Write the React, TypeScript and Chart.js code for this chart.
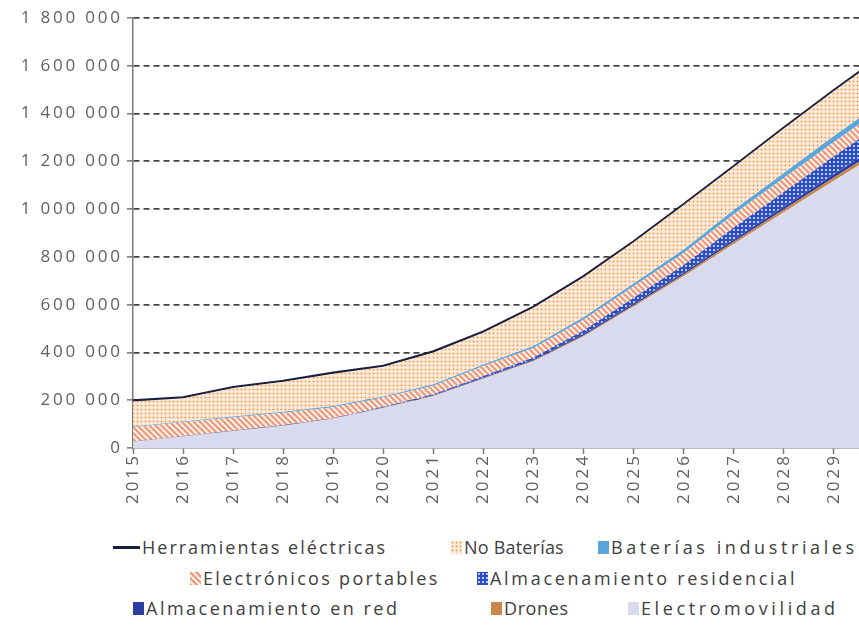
import React, { useEffect, useRef } from 'react';
import { Chart, registerables } from 'chart.js';

Chart.register(...registerables);

// ---------- DATA ----------
const YEARS = ['2015', '2016', '2017', '2018', '2019', '2020', '2021', '2022', '2023', '2024', '2025', '2026', '2027', '2028', '2029', '2030'];

const ELECTROMOVILIDAD = [25500, 48000, 70000, 92500, 122000, 167000, 217000, 290000, 363000, 467000, 592000, 719000, 854000, 987000, 1119000, 1249000];
const DRONES = [500, 500, 1000, 1000, 1000, 1000, 2000, 2000, 3000, 4000, 6000, 7000, 9000, 11000, 13000, 15000];
const ALMACENAMIENTO_RED = [500, 500, 1000, 1000, 1000, 2000, 2000, 3000, 4000, 6000, 7000, 8000, 10000, 12000, 14000, 16000];
const ALMACENAMIENTO_RESIDENCIAL = [500, 1000, 1000, 1500, 2000, 3000, 4000, 6000, 9000, 15000, 24000, 32000, 50000, 62000, 75000, 85000];
const ELECTRONICOS_PORTABLES = [60000, 58000, 55000, 52000, 45000, 38000, 36000, 42000, 40000, 45000, 48000, 50000, 55000, 58000, 60000, 62000];
const BATERIAS_INDUSTRIALES = [3000, 3000, 4000, 4000, 5000, 5000, 6000, 7000, 8000, 10000, 12000, 15000, 18000, 21000, 25000, 28000];
const NO_BATERIAS = [105000, 97000, 119000, 125000, 135000, 124000, 133000, 133000, 160000, 168000, 172000, 186000, 180000, 186000, 188000, 190000];
const HERRAMIENTAS = [4000, 4000, 4000, 4000, 4000, 4000, 4000, 4000, 4000, 4000, 4000, 4000, 4000, 4000, 4000, 4000];

const Y_MIN = 0;
const Y_MAX = 1800000;
const Y_STEP = 200000;

// ---------- LAYOUT / STYLE ----------
const FULL_W = 996;
const CANVAS_H = 515;
const FONT = "'Open Sans', 'DejaVu Sans', sans-serif";
const TEXT = '#5f5f5f';
const AXIS = '#7a7a7a';

const C_ELECTRO = '#dadaee';
const C_DRONES = '#c8874b';
const C_RED = '#2c3ca0';
const C_IND = '#5aa6dc';
const C_HERR = '#1a2140';

function makeTile(size: number, draw: (g: CanvasRenderingContext2D) => void) {
  const c = document.createElement('canvas');
  c.width = size;
  c.height = size;
  const g = c.getContext('2d')!;
  draw(g);
  return c;
}

function buildTiles() {
  const noBat = makeTile(4, (g) => {
    g.fillStyle = '#feead8';
    g.fillRect(0, 0, 4, 4);
    g.fillStyle = '#f9c397';
    g.fillRect(0, 1, 3, 1);
    g.fillRect(1, 0, 1, 3);
    g.fillStyle = '#f39e5c';
    g.fillRect(1, 1, 1, 1);
  });
  const elec = makeTile(6, (g) => {
    g.fillStyle = '#fffaf7';
    g.fillRect(0, 0, 6, 6);
    g.strokeStyle = '#f29b7c';
    g.lineWidth = 2.4;
    g.beginPath();
    for (const k of [-6, 0, 6]) {
      g.moveTo(k - 1, -1);
      g.lineTo(k + 7, 7);
    }
    g.stroke();
  });
  const res = makeTile(4, (g) => {
    g.fillStyle = '#2c4ec4';
    g.fillRect(0, 0, 4, 4);
    g.fillStyle = '#b9c8f4';
    g.fillRect(1, 1, 2, 2);
  });
  return { noBat, elec, res };
}

const fmt = (v: number) => String(v).replace(/\B(?=(\d{3})+(?!\d))/g, ' ');

// draw a text with extra spacing between its characters, right-aligned at x
function drawSpacedRight(ctx: CanvasRenderingContext2D, text: string, x: number, y: number, spacing: number) {
  const chars = Array.from(text);
  const widths = chars.map((ch) => ctx.measureText(ch).width);
  const total = widths.reduce((a, b) => a + b, 0) + spacing * (chars.length - 1);
  let cx = x - total;
  chars.forEach((ch, i) => {
    ctx.fillText(ch, cx, y);
    cx += widths[i] + spacing;
  });
}

const tickLabelPlugin = {
  id: 'spacedTickLabels',
  afterDraw(chart: any) {
    const ctx: CanvasRenderingContext2D = chart.ctx;
    const ys = chart.scales.y;
    const xs = chart.scales.x;
    ctx.save();
    ctx.fillStyle = TEXT;
    ctx.font = `17px ${FONT}`;
    ctx.textAlign = 'left';
    ctx.textBaseline = 'middle';
    ys.ticks.forEach((t: any) => {
      drawSpacedRight(ctx, fmt(t.value), 120, ys.getPixelForValue(t.value), 2.8);
    });
    const labels: string[] = chart.data.labels;
    labels.forEach((lab, i) => {
      const px = xs.getPixelForTick(i);
      ctx.save();
      ctx.translate(px, xs.top + 8);
      ctx.rotate(-Math.PI / 2);
      drawSpacedRight(ctx, lab, 0, 0, 3);
      ctx.restore();
    });
    ctx.restore();
  },
};

type LegendItem = { label: string; left: number; top: number; swatch: React.CSSProperties; spacing: number; line?: boolean };

export default function App() {
  const ref = useRef<HTMLCanvasElement>(null);
  const [tileUrls, setTileUrls] = React.useState<{ noBat: string; elec: string; res: string } | null>(null);

  useEffect(() => {
    const canvas = ref.current!;
    const tiles = buildTiles();
    setTileUrls({ noBat: tiles.noBat.toDataURL(), elec: tiles.elec.toDataURL(), res: tiles.res.toDataURL() });
    const ctx = canvas.getContext('2d')!;
    const pNoBat = ctx.createPattern(tiles.noBat, 'repeat')!;
    const pElec = ctx.createPattern(tiles.elec, 'repeat')!;
    const pRes = ctx.createPattern(tiles.res, 'repeat')!;

    const area = (label: string, data: number[], bg: any, fill: any = '-1', extra: any = {}) => ({
      type: 'line',
      label,
      data,
      backgroundColor: bg,
      borderColor: 'rgba(0,0,0,0)',
      borderWidth: 0,
      fill,
      pointRadius: 0,
      tension: 0,
      ...extra,
    });

    const chart = new Chart(canvas, {
      type: 'line',
      data: {
        labels: YEARS,
        datasets: [
          area('Electromovilidad', ELECTROMOVILIDAD, C_ELECTRO, 'origin'),
          area('Drones', DRONES, C_DRONES),
          area('Almacenamiento en red', ALMACENAMIENTO_RED, C_RED),
          area('Almacenamiento residencial', ALMACENAMIENTO_RESIDENCIAL, pRes),
          area('Electrónicos portables', ELECTRONICOS_PORTABLES, pElec),
          area('Baterías industriales', BATERIAS_INDUSTRIALES, C_IND),
          area('No Baterías', NO_BATERIAS, pNoBat),
          area('Herramientas eléctricas', HERRAMIENTAS, C_HERR, '-1', { borderColor: C_HERR, borderWidth: 2.4 }),
        ] as any,
      },
      options: {
        animation: false,
        responsive: false,
        maintainAspectRatio: false,
        layout: { padding: { top: 18, right: FULL_W - 884, bottom: 0, left: 0 } },
        plugins: {
          legend: { display: false },
          tooltip: { enabled: false },
        },
        scales: {
          x: {
            type: 'category',
            offset: false,
            grid: {
              display: true,
              drawOnChartArea: false,
              drawTicks: true,
              tickLength: 6,
              tickColor: AXIS,
              tickWidth: 1.5,
            },
            border: { display: true, color: AXIS, width: 1.5 },
            ticks: { display: false, autoSkip: false },
            afterFit: (s: any) => {
              s.height = CANVAS_H - 448;
            },
          },
          y: {
            stacked: true,
            min: Y_MIN,
            max: Y_MAX,
            grid: {
              color: (c: any) => (c.tick && c.tick.value === 0 ? 'rgba(0,0,0,0)' : '#444444'),
              lineWidth: 1.7,
              drawTicks: true,
              tickLength: 6,
              tickColor: AXIS,
              tickWidth: 1.5,
            },
            border: { display: true, color: AXIS, width: 1.5, dash: [6, 4] },
            ticks: { display: false, stepSize: Y_STEP },
            afterFit: (s: any) => {
              s.width = 133;
            },
          },
        },
      } as any,
      plugins: [tickLabelPlugin],
    });
    return () => chart.destroy();
  }, []);

  const sw = (extra: React.CSSProperties): React.CSSProperties => ({
    width: 11,
    height: 13,
    display: 'inline-block',
    flex: '0 0 auto',
    ...extra,
  });

  const items: LegendItem[] = [
    { label: 'Herramientas eléctricas', left: 113, top: 547, line: true, spacing: 2.0, swatch: { width: 27, height: 3, background: C_HERR } },
    { label: 'No Baterías', left: 451, top: 547, spacing: 0.2, swatch: sw({ backgroundImage: tileUrls ? `url(${tileUrls.noBat})` : undefined }) },
    { label: 'Baterías industriales', left: 598, top: 547, spacing: 3.6, swatch: sw({ background: C_IND }) },
    { label: 'Electrónicos portables', left: 190, top: 578, spacing: 2.3, swatch: sw({ backgroundImage: tileUrls ? `url(${tileUrls.elec})` : undefined }) },
    { label: 'Almacenamiento residencial', left: 477, top: 578, spacing: 2.7, swatch: sw({ backgroundImage: tileUrls ? `url(${tileUrls.res})` : undefined }) },
    { label: 'Almacenamiento en red', left: 133, top: 608, spacing: 2.5, swatch: sw({ background: C_RED }) },
    { label: 'Drones', left: 491, top: 608, spacing: 0.6, swatch: sw({ background: C_DRONES }) },
    { label: 'Electromovilidad', left: 628, top: 608, spacing: 3.6, swatch: sw({ background: C_ELECTRO }) },
  ];

  return (
    <div style={{ position: 'fixed', left: 0, top: 0, width: 859, height: 629, overflow: 'hidden', background: '#ffffff' }}>
      <div style={{ position: 'absolute', left: 0, top: 0, width: FULL_W, height: 629 }}>
        <canvas ref={ref} width={FULL_W} height={CANVAS_H} style={{ position: 'absolute', left: 0, top: 0, width: FULL_W, height: CANVAS_H }} />
        {items.map((it) => (
          <div
            key={it.label}
            style={{
              position: 'absolute',
              left: it.left,
              top: it.top - 12,
              height: 24,
              display: 'flex',
              alignItems: 'center',
              whiteSpace: 'nowrap',
              fontFamily: FONT,
              fontSize: 18,
              letterSpacing: `${it.spacing}px`,
              color: '#404040',
            }}
          >
            <span style={{ display: 'inline-block', ...it.swatch }} />
            <span style={{ marginLeft: 2 }}>{it.label}</span>
          </div>
        ))}
      </div>
    </div>
  );
}
